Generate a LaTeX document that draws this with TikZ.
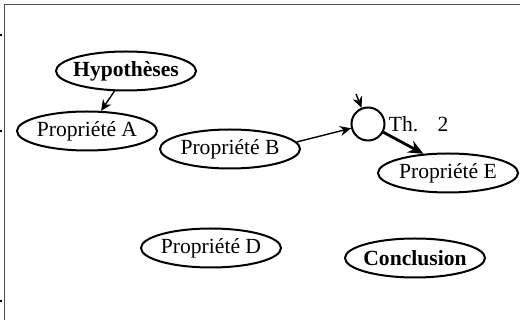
\documentclass[tikz,border=0pt]{standalone}
\usepackage{fontspec}
\setmainfont{Liberation Serif}
\usetikzlibrary{positioning, shapes.geometric, arrows.meta}

\tikzset{
  prop/.style={ellipse, draw, line width=1pt, minimum width=70pt, minimum height=19.5pt,
    inner xsep=-2pt, inner ysep=0pt, font=\fontsize{10.8}{12}\selectfont},
  fleche/.style={-{Stealth[length=5.5pt, width=5pt]}, line width=0.7pt},
  grosfleche/.style={-{Stealth[length=7.5pt, width=6.5pt]}, line width=1.4pt}
}

\begin{document}
\begin{tikzpicture}[x=0.5pt, y=-0.5pt]
\useasboundingbox (0,0) rectangle (520,320);
\draw[gray!60!black, line width=0.8pt] (4.5,320) -- (4.5,4.5) -- (520,4.5);
\foreach \y in {35, 131, 301}
    \draw[line width=0.6pt] (0,\y) -- (1.5,\y);
\node[prop, font=\fontsize{10.8}{12}\selectfont\bfseries] (hyp) at (126,71) {Hypothèses};
\node[prop] (propA) at (87,131) {Propriété A};
\node[prop] (propB) at (230,149) {Propriété B};
\node[prop] (propD) at (211,248) {Propriété D};
\node[prop] (propE) at (448,173) {Propriété E};
\node[prop, font=\fontsize{10.8}{12}\selectfont\bfseries] (concl) at (415,258) {Conclusion};
\node[circle, draw, line width=1pt, minimum size=16.5pt, inner sep=0pt] (th) at (368,124) {};
\node[anchor=west, inner sep=1.5pt, font=\fontsize{10.8}{12}\selectfont] (thlab) at (th.east) {Th.\hspace{0.9em}2};
\coordinate (thin) at (356,94);
\draw[fleche] (hyp.240) -- (propA.55);
\draw[fleche] (propB.6) -- (th);
\draw[fleche] (thin) -- (th);
\draw[grosfleche] (th) -- (propE.142);
\end{tikzpicture}
\end{document}
